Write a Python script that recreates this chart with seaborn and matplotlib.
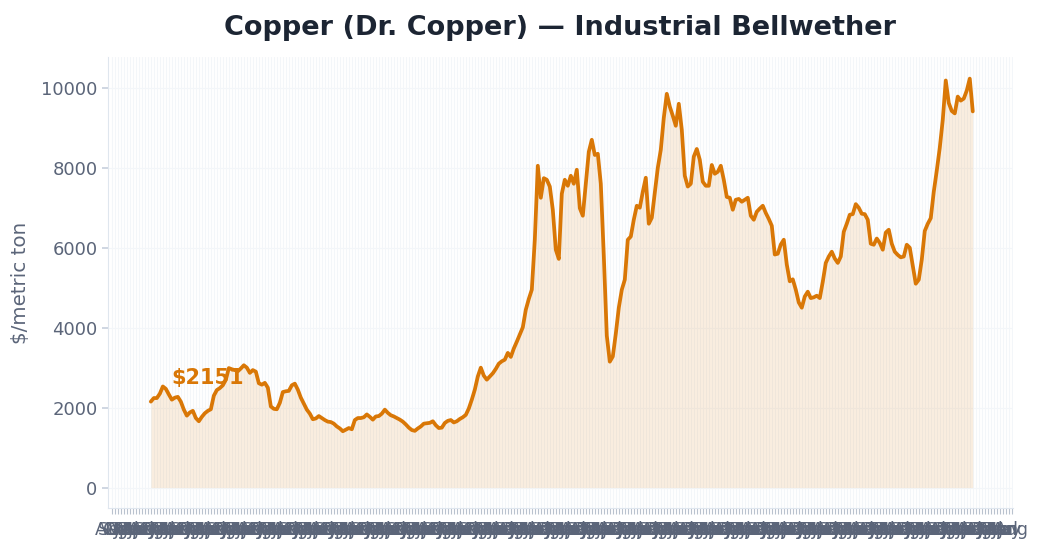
import numpy as np
import pandas as pd
import matplotlib
matplotlib.use("Agg")
import matplotlib.pyplot as plt
import seaborn as sns

# ---- data ----
month_labels = list(pd.date_range("1990-08-01", periods=301, freq="MS").strftime("%b"))
data_start = 13  # first category that carries a price

copper_price = [
    2151, 2240, 2240, 2350, 2530, 2470, 2330, 2200, 2250, 2270,
    2150, 1950, 1800, 1880, 1920, 1740, 1660, 1770, 1860, 1920,
    1960, 2300, 2440, 2490, 2560, 2700, 2990, 2960, 2940, 2910,
    2980, 3060, 3000, 2870, 2940, 2900, 2610, 2575, 2620, 2500,
    2030, 1970, 1960, 2120, 2390, 2410, 2420, 2560, 2600, 2450,
    2250, 2100, 1950, 1850, 1710, 1730, 1790, 1740, 1690, 1650,
    1640, 1600, 1530, 1480, 1410, 1450, 1490, 1460, 1690, 1740,
    1740, 1760, 1830, 1770, 1700, 1780, 1790, 1850, 1950, 1870,
    1810, 1780, 1740, 1700, 1650, 1580, 1500, 1440, 1420, 1480,
    1530, 1600, 1610, 1620, 1660, 1560, 1490, 1500, 1617, 1670,
    1690, 1630, 1660, 1717, 1760, 1820, 1980, 2200, 2450, 2780,
    3000, 2800, 2700, 2780, 2860, 2970, 3100, 3160, 3200, 3370,
    3270, 3480, 3650, 3830, 4010, 4450, 4720, 4950, 6200, 8050,
    7250, 7740, 7700, 7530, 6950, 5950, 5720, 7350, 7700, 7550,
    7800, 7600, 7950, 6990, 6800, 7600, 8400, 8700, 8320, 8350,
    7600, 5800, 3800, 3150, 3280, 3850, 4500, 4950, 5200, 6200,
    6280, 6700, 7050, 7000, 7400, 7750, 6600, 6750, 7370, 8000,
    8450, 9250, 9850, 9530, 9300, 9050, 9600, 8950, 7800, 7530,
    7600, 8280, 8470, 8200, 7650, 7550, 7550, 8070, 7850, 7900,
    8050, 7700, 7270, 7250, 6950, 7200, 7220, 7150, 7200, 7250,
    6800, 6700, 6900, 6980, 7050, 6870, 6720, 6550, 5830, 5850,
    6080, 6200, 5580, 5160, 5210, 4950, 4630, 4500, 4780, 4900,
    4740, 4760, 4800, 4740, 5150, 5620, 5780, 5900, 5730, 5620,
    5780, 6400, 6600, 6825, 6840, 7090, 7000, 6850, 6840, 6700,
    6100, 6075, 6230, 6120, 5950, 6380, 6450, 6100, 5900, 5820,
    5760, 5780, 6075, 6000, 5550, 5100, 5200, 5700, 6420, 6600,
    6740, 7400, 7930, 8500, 9200, 10183, 9620, 9420, 9360, 9780,
    9680, 9730, 9930, 10230, 9410,
]

title = "Copper (Dr. Copper) \u2014 Industrial Bellwether"
y_label = "$/metric ton"

# ---- style ----
sns.set_theme(style="whitegrid")
plt.rcParams["font.family"] = ["DejaVu Sans"]

line_color = "#d97706"
text_gray = "#5b6579"
grid_color = "#f3f6f9"

df = pd.DataFrame({
    "pos": np.arange(data_start, data_start + len(copper_price)),
    "price": copper_price,
})

fig = plt.figure(figsize=(10.4, 5.52), dpi=100)
ax = fig.add_axes([0.1038, 0.0797, 0.8702, 0.817])
ax.set_facecolor("white")

ax.fill_between(df["pos"], 0, df["price"], color=line_color, alpha=0.12, linewidth=0)
sns.lineplot(data=df, x="pos", y="price", ax=ax, color=line_color, linewidth=2.7)

ax.annotate(f"${copper_price[0]}", xy=(df["pos"].iloc[0], copper_price[0]),
            xytext=(15, 13), textcoords="offset points",
            fontsize=15, fontweight="bold", color=line_color)

ax.set_xticks(np.arange(len(month_labels)))
ax.set_xticklabels(month_labels, fontsize=12.5, color=text_gray)
ax.set_xlim(-1.3, len(month_labels) - 0.6)
ax.set_ylim(-510, 10770)
ax.set_yticks([0, 2000, 4000, 6000, 8000, 10000])
ax.tick_params(axis="y", labelsize=13, labelcolor=text_gray, length=4, color="#c9d2de", left=True)
ax.tick_params(axis="x", length=4, color="#b9c2ce", bottom=True, width=0.8, pad=5)

ax.set_xlabel("")
ax.set_ylabel(y_label, fontsize=14.3, color=text_gray, labelpad=8)
ax.set_title(title, fontsize=19.5, fontweight="bold", color="#1c2533", pad=16)

ax.grid(True, color=grid_color, linewidth=0.8)
for side in ["top", "right"]:
    ax.spines[side].set_visible(False)
for side in ["left", "bottom"]:
    ax.spines[side].set_color("#dfe6ee")
    ax.spines[side].set_linewidth(0.8)

fig.savefig("out.png", dpi=100)
